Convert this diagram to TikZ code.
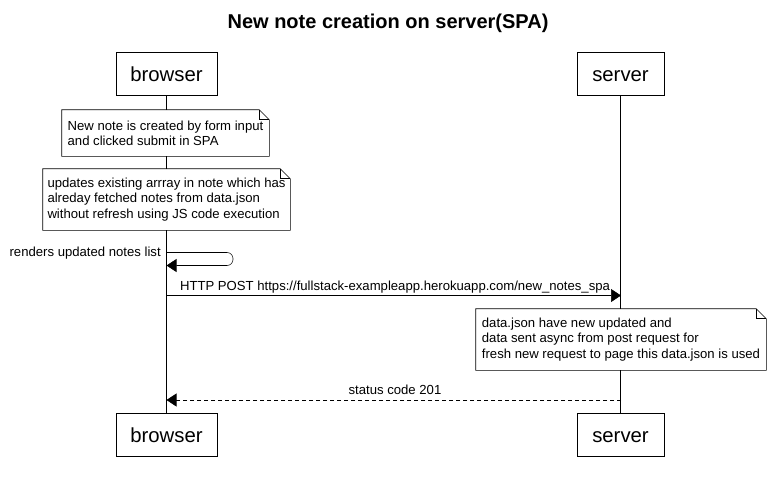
\documentclass[tikz,border=0pt]{standalone}
\usepackage{fontspec}
\setmainfont{Liberation Sans}
\usepackage{tikz}
\usetikzlibrary{arrows.meta,positioning,calc}
\definecolor{umlline}{RGB}{0,0,0}
\definecolor{umlnote}{RGB}{255,255,255}
\tikzstyle{actorbox} = [rectangle, draw=umlline, fill=white, minimum height=32.25pt, text height=11.25pt, text depth=0pt, font=\fontsize{15.25}{18}\selectfont, inner sep=0pt]
\tikzstyle{notebox} = [rectangle, draw=none, fill=umlnote, align=left, inner sep=0pt, font=\fontsize{9.85}{11.4}\selectfont]
\tikzstyle{msg} = [draw=umlline, -{Triangle[length=7.5pt,width=9.75pt]}]
\tikzstyle{reply} = [msg, dash pattern=on 3pt off 2.25pt]
\tikzstyle{msglabel} = [font=\fontsize{9.85}{11.25}\selectfont, inner sep=0pt, anchor=base]
\newcommand{\notefold}[1]{%
  \draw[umlline] (#1.north west) -- ($(#1.north east)+(-7.5pt,0)$) -- ($(#1.north east)+(0,-7.5pt)$) -- (#1.south east) -- (#1.south west) -- cycle;
  \draw[umlline] ($(#1.north east)+(-7.5pt,0)$) |- ($(#1.north east)+(0,-7.5pt)$);
}

\begin{document}
\begin{tikzpicture}[x=0.75pt, y=-0.75pt]
\useasboundingbox (0,0) rectangle (775,483);
% title
\node[font=\fontsize{15}{18}\selectfont\bfseries, anchor=base] (title) at (388,28) {New note creation on server(SPA)};
% participants
\node[actorbox, minimum width=75.75pt] (bt) at (166.5,73.5) {browser};
\node[actorbox, minimum width=65.25pt] (st) at (620.5,73.5) {server};
\node[actorbox, minimum width=75.75pt] (bb) at (166.5,435) {browser};
\node[actorbox, minimum width=65.25pt] (sb) at (620.5,435) {server};
% lifelines
\draw[umlline] (bt.south) -- (bb.north);
\draw[umlline] (st.south) -- (sb.north);
% notes
\node[notebox, minimum width=155.25pt, minimum height=34.5pt] (n1) at (165.5,133) {New note is created by form input\\and clicked submit in SPA};
\notefold{n1}
\node[notebox, minimum width=185.25pt, minimum height=45.75pt] (n2) at (166.5,199.5) {updates existing arrray in note which has\\alreday fetched notes from data.json\\without refresh using JS code execution};
\notefold{n2}
% self message
\coordinate (r1) at (166.5,252.5);
\coordinate (r2) at (166.5,265.5);
\draw[msg, rounded corners=4.5pt] (r1) -- ++(66.5,0) -- ++(0,13) -- (r2);
\node[msglabel, anchor=base east] (rl) at (161,256.5) {renders updated notes list};
% post
\coordinate (p1) at (166.5,295.5);
\coordinate (p2) at (621,295.5);
\draw[msg] (p1) -- (p2);
\node[msglabel] (pl) at (395,290) {HTTP POST https://fullstack-exampleapp.herokuapp.com/new\_notes\_spa};
\node[notebox, minimum width=217.5pt, minimum height=45.75pt] (n3) at (621,339.5) {data.json have new updated and\\data sent async from post request for\\fresh new request to page this data.json is used};
\notefold{n3}
% reply
\coordinate (s1) at (621,400);
\coordinate (s2) at (166.5,400);
\draw[reply] (s1) -- (s2);
\node[msglabel] (sl) at (395,394.5) {status code 201};
\end{tikzpicture}
\end{document}
